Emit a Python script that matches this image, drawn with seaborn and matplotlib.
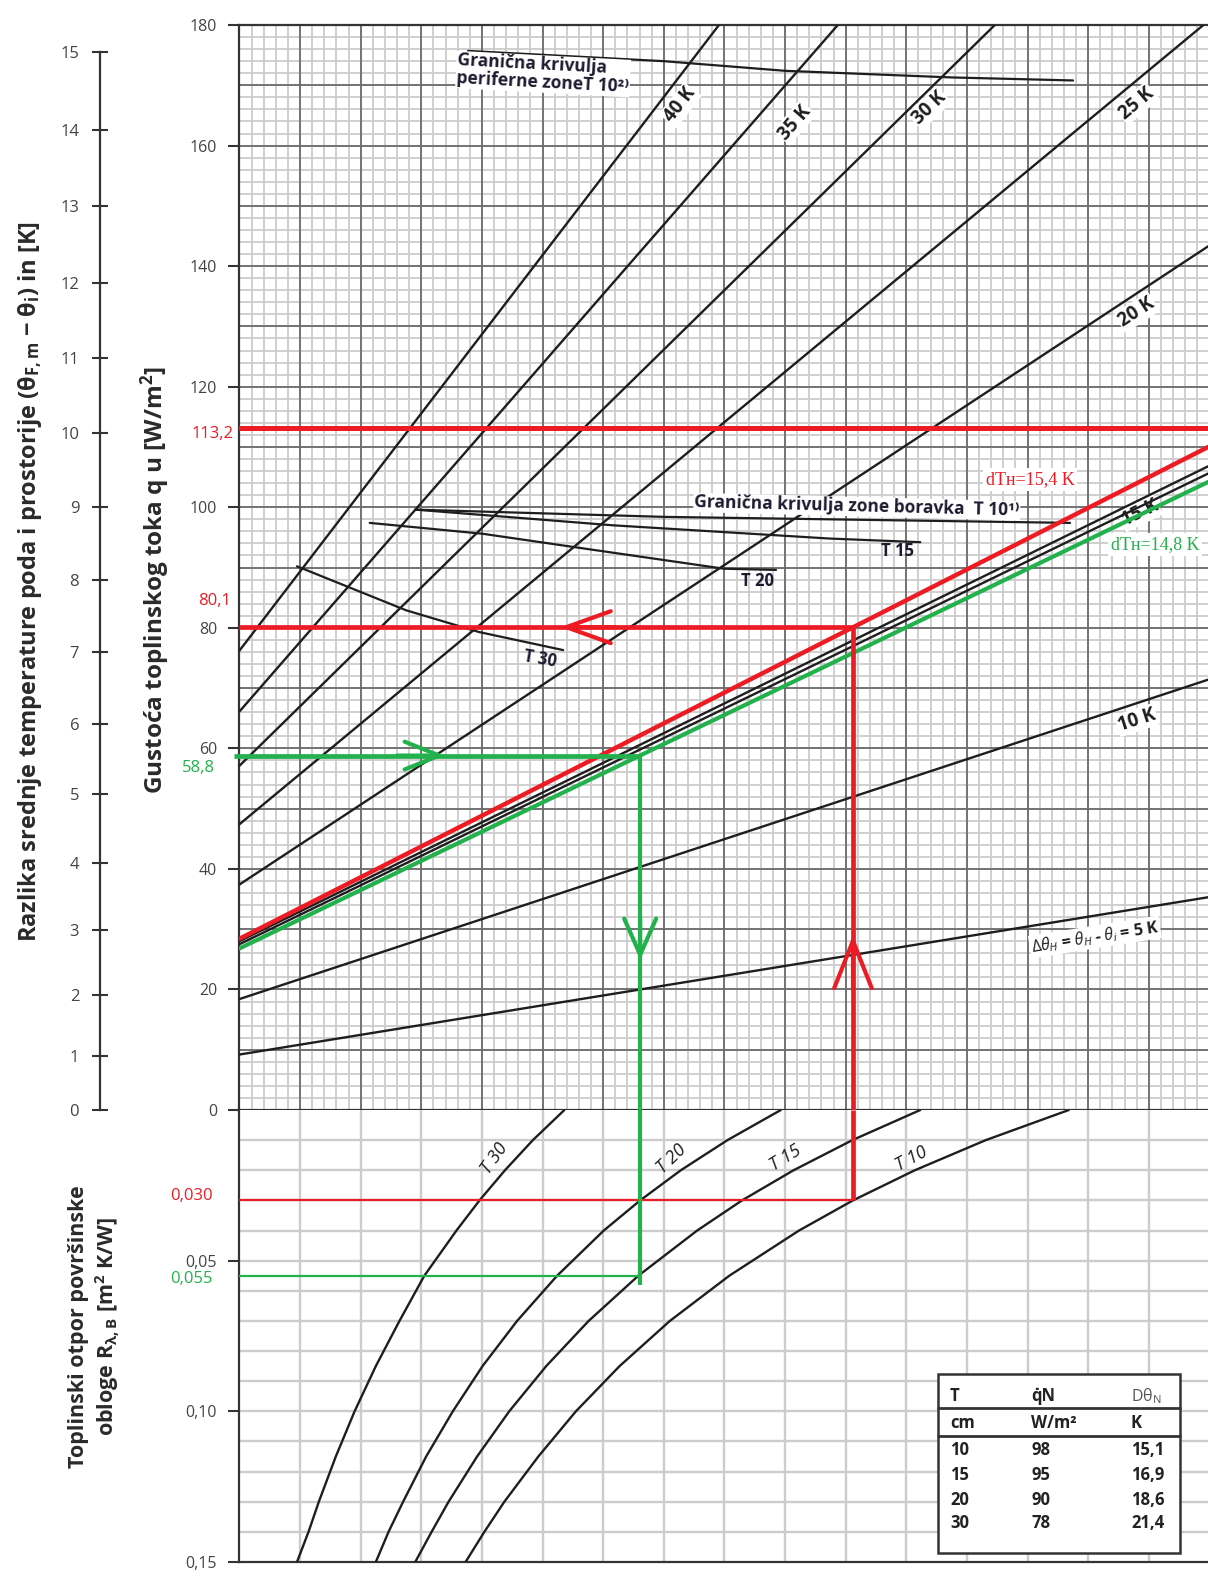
import numpy as np
import pandas as pd
import matplotlib
matplotlib.use("Agg")
import matplotlib.pyplot as plt
from matplotlib.patches import Rectangle
from matplotlib.lines import Line2D
import seaborn as sns

# ================= DATA =================
# x axis = grid columns (0 .. ~16, unlabeled), y = heat flux q [W/m2]
char_names = ["5 K", "10 K", "15 K a", "15 K b", "20 K", "25 K", "30 K", "35 K", "40 K"]
char_x0 = [0.0, 0.0, 0.0, 0.0, 0.0, 0.0, 0.0, 0.0, 0.0]
char_q0 = [9.2, 18.4, 28.0, 27.5, 37.4, 47.4, 57.1, 66.1, 76.2]
char_x1 = [15.98, 15.98, 15.98, 15.98, 15.98, 15.90, 12.46, 9.87, 7.91]
char_q1 = [35.3, 71.4, 106.8, 105.6, 143.3, 180.0, 180.0, 180.0, 180.0]

# worked examples (red: dTH = 15,4 K ; green: dTH = 14,8 K)
red_line_x = [0.0, 15.98]
red_line_q = [28.4, 110.0]
green_line_x = [0.0, 15.98]
green_line_q = [26.8, 104.2]
q_max_red = 113.2
q_red, x_red, R_red = 80.1, 10.12, 0.030
q_green, x_green, R_green = 58.8, 6.61, 0.055
R_green_end = 0.058

# boundary curves (top panel)
bnd_names = ["per", "b10", "b15", "b20", "b30"]
bnd_x = {
    "per": [3.77, 7.0, 9.0, 11.75, 13.75],
    "b10": [2.90, 7.0, 13.70],
    "b15": [2.90, 6.16, 9.74, 11.23],
    "b20": [2.15, 4.01, 5.65, 7.99, 8.85],
    "b30": [0.95, 2.75, 3.95, 5.34],
}
bnd_q = {
    "per": [175.7, 174.0, 172.4, 171.3, 170.8],
    "b10": [99.6, 98.4, 97.4],
    "b15": [99.6, 97.0, 94.8, 94.2],
    "b20": [97.4, 95.6, 93.2, 89.8, 89.6],
    "b30": [90.2, 82.9, 79.3, 76.3],
}

# resistance curves (bottom panel): x column vs R [m2K/W]
res_names = ["T 30", "T 20", "T 15", "T 10"]
res_R_pts = [0.0, 0.01, 0.02, 0.03, 0.04, 0.055, 0.07, 0.085, 0.10, 0.115, 0.13, 0.14, 0.15]
res_x = {
    "T 30": [5.36, 4.84, 4.38, 3.96, 3.58, 3.05, 2.64, 2.25, 1.90, 1.59, 1.31, 1.14, 0.95],
    "T 20": [8.93, 8.05, 7.28, 6.61, 6.01, 5.24, 4.58, 4.01, 3.52, 3.08, 2.70, 2.46, 2.25],
    "T 15": [11.23, 10.11, 9.14, 8.29, 7.55, 6.58, 5.76, 5.06, 4.45, 3.92, 3.45, 3.17, 2.90],
    "T 10": [13.68, 12.31, 11.14, 10.12, 9.23, 8.08, 7.10, 6.27, 5.55, 4.93, 4.37, 4.04, 3.73],
}

# left auxiliary axis: surface temperature difference ticks and their q positions
dtheta_labels = [str(i) for i in range(16)]
dtheta_q = [0, 8.9, 19.1, 29.9, 41.0, 52.4, 64.0, 75.9, 87.9, 100.0,
            112.3, 124.7, 137.2, 149.9, 162.6, 175.5]

q_ticks = [0, 20, 40, 60, 80, 100, 120, 140, 160, 180]
R_ticks = [0.05, 0.10, 0.15]
R_ticklabels = ["0,05", "0,10", "0,15"]

# table
tbl_T = ["10", "15", "20", "30"]
tbl_q = ["98", "95", "90", "78"]
tbl_d = ["15,1", "16,9", "18,6", "21,4"]

# ================= STYLE =================
sns.set_theme(style="white")
plt.rcParams["font.family"] = ["Open Sans", "DejaVu Sans"]
plt.rcParams["mathtext.fontset"] = "custom"
plt.rcParams["mathtext.rm"] = "Open Sans"
plt.rcParams["mathtext.it"] = "Open Sans:italic"
plt.rcParams["mathtext.bf"] = "Open Sans:bold"

RED = "#ed1c24"
GREEN = "#22b14c"
INK = "#1e1e1e"
SPINE = "#333333"
TICKC = "#444444"
MINOR = "#cccccc"
MAJOR = "#6c6c6c"

W, H = 1208, 1577
X0 = 239.4
PX_COL = 60.63
XMAX = (W - X0) / PX_COL


def fx(px):
    return px / W


def fy(py):
    return 1 - py / H


fig = plt.figure(figsize=(W / 100, H / 100), dpi=100)
ax = fig.add_axes([fx(X0), fy(1110), 1 - fx(X0), (1110 - 25) / H])
axb = fig.add_axes([fx(X0), fy(1562), 1 - fx(X0), (1562 - 1110) / H])
axd = fig.add_axes([fx(100), fy(1110), 0.0005, (1110 - 25) / H])

# ---------------- grid, top panel ----------------
ax.vlines(np.arange(1, 81) * 0.2, 0, 180, color=MINOR, lw=1.3, zorder=0.5)
ax.hlines(np.arange(1, 90) * 2, 0, XMAX, color=MINOR, lw=1.3, zorder=0.5)
ax.vlines(np.arange(1, 16), 0, 180, color=MAJOR, lw=1.3, zorder=0.6)
ax.hlines(np.arange(1, 18) * 10, 0, XMAX, color=MAJOR, lw=1.3, zorder=0.6)

# ---------------- grid, bottom panel ----------------
axb.vlines(np.arange(1, 16), 0, 0.15, color=MINOR, lw=1.7, zorder=0.5)
axb.hlines(np.arange(1, 15) * 0.01, 0, XMAX, color=MINOR, lw=1.7, zorder=0.5)

# ---------------- characteristic lines ----------------
rows = []
for n, x0, q0, x1, q1 in zip(char_names, char_x0, char_q0, char_x1, char_q1):
    rows += [(n, x0, q0), (n, x1, q1)]
df_char = pd.DataFrame(rows, columns=["line", "x", "q"])
sns.lineplot(data=df_char, x="x", y="q", units="line", estimator=None,
             color=INK, lw=1.7, ax=ax, legend=False, zorder=3)

rows = []
for n in bnd_names:
    for xv, qv in zip(bnd_x[n], bnd_q[n]):
        rows.append((n, xv, qv))
df_bnd = pd.DataFrame(rows, columns=["line", "x", "q"])
sns.lineplot(data=df_bnd, x="x", y="q", units="line", estimator=None,
             color=INK, lw=1.6, ax=ax, legend=False, zorder=3)

# worked example lines
sns.lineplot(x=red_line_x, y=red_line_q, color=RED, lw=3.2, ax=ax, zorder=6)
sns.lineplot(x=green_line_x, y=green_line_q, color=GREEN, lw=3.0, ax=ax, zorder=6)
ax.axhline(q_max_red, color=RED, lw=3.6, zorder=6)
ax.hlines(q_red, 0, x_red, color=RED, lw=3.4, zorder=6)
ax.vlines(x_red, 0, q_red, color=RED, lw=3.4, zorder=6)
ax.hlines(q_green, -0.09, x_green, color=GREEN, lw=3.4, zorder=6, clip_on=False)
ax.vlines(x_green, 0, q_green, color=GREEN, lw=3.0, zorder=6)

# bottom panel
rows = []
for n in res_names:
    for xv, rv in zip(res_x[n], res_R_pts):
        rows.append((n, xv, rv))
df_res = pd.DataFrame(rows, columns=["curve", "x", "R"])
sns.lineplot(data=df_res, x="x", y="R", units="curve", estimator=None,
             color=INK, lw=1.7, ax=axb, legend=False, zorder=3, sort=False)
axb.hlines(R_red, 0, x_red, color=RED, lw=1.6, zorder=6)
axb.vlines(x_red, 0, R_red, color=RED, lw=3.4, zorder=6)
axb.hlines(R_green, 0, x_green, color=GREEN, lw=1.6, zorder=6)
axb.vlines(x_green, 0, R_green_end, color=GREEN, lw=3.0, zorder=6)


# chevron arrows
def chevron(a, tip, tail, color, hl, hw, lw):
    a.annotate("", xy=tip, xytext=tail,
               arrowprops=dict(arrowstyle=f"->,head_length={hl},head_width={hw}",
                               color=color, lw=lw, mutation_scale=10,
                               shrinkA=0, shrinkB=0), zorder=7)


chevron(ax, (3.39, q_green), (2.6, q_green), GREEN, 2.5, 1.0, 3.0)
chevron(ax, (5.29, q_red), (6.2, q_red), RED, 3.2, 1.15, 3.0)
chevron(ax, (x_green, 24.9), (x_green, 32.0), GREEN, 2.6, 1.15, 3.0)
chevron(ax, (x_red, 29.0), (x_red, 20.0), RED, 3.4, 1.35, 3.0)

# ---------------- axes cosmetics ----------------
for a in (ax, axb):
    a.set_xlabel("")
    a.set_ylabel("")
    a.set_xlim(0, XMAX)
    a.set_xticks([])
    a.spines["right"].set_visible(False)
    for s in ("left", "top", "bottom"):
        a.spines[s].set_color(SPINE)
        a.spines[s].set_linewidth(1.6)
ax.set_ylim(0, 180)
ax.set_yticks(q_ticks)
ax.set_yticklabels([str(v) for v in q_ticks])
axb.set_ylim(0.15, 0)
axb.spines["top"].set_visible(False)
axb.set_yticks(R_ticks)
axb.set_yticklabels(R_ticklabels)
for a in (ax, axb):
    a.tick_params(axis="y", direction="out", length=8, width=1.5, color=SPINE,
                  pad=8, labelsize=11.5, labelcolor=TICKC, left=True)

# left auxiliary axis
axd.set_ylim(0, 180)
axd.set_xticks([])
axd.patch.set_visible(False)
for s in ("right", "top", "bottom"):
    axd.spines[s].set_visible(False)
axd.spines["left"].set_color(SPINE)
axd.spines["left"].set_linewidth(1.6)
axd.spines["left"].set_bounds(0, dtheta_q[-1])
axd.set_yticks(dtheta_q)
axd.set_yticklabels(dtheta_labels)
axd.tick_params(axis="y", direction="inout", length=12, width=1.5, color=SPINE,
                pad=9, labelsize=12, labelcolor=TICKC, left=True)

# ---------------- value labels in the margin ----------------
ytr = ax.get_yaxis_transform()
ax.text(-0.006, q_max_red - 1.0, "113,2", transform=ytr, ha="right", va="center",
        color=RED, fontsize=12, clip_on=False)
ax.text(-0.009, q_red + 4.3, "80,1", transform=ytr, ha="right", va="center",
        color=RED, fontsize=12, clip_on=False)
ax.text(-0.025, q_green - 2.1, "58,8", transform=ytr, ha="right", va="center",
        color=GREEN, fontsize=12, clip_on=False)
ybtr = axb.get_yaxis_transform()
axb.text(-0.028, R_red - 0.0015, "0,030", transform=ybtr, ha="right", va="center",
         color=RED, fontsize=12, clip_on=False)
axb.text(-0.028, R_green + 0.0011, "0,055", transform=ybtr, ha="right", va="center",
         color=GREEN, fontsize=12, clip_on=False)

# ---------------- line labels ----------------
bb = dict(facecolor="white", edgecolor="none", pad=1.0)
line_lbls = [("40 K", 7.27, 166.7, 52), ("35 K", 9.16, 163.8, 49),
             ("30 K", 11.38, 166.2, 44), ("25 K", 14.80, 167.0, 40),
             ("20 K", 14.80, 132.3, 33), ("15 K", 14.85, 99.0, 26),
             ("10 K", 14.80, 64.7, 18)]
for t, xv, qv, rot in line_lbls:
    ax.text(xv, qv, t, rotation=rot, rotation_mode="anchor", ha="center", va="center",
            fontsize=13.5, fontweight="bold", color=INK, bbox=bb, zorder=2.5)
ax.text(14.11, 28.7, r"$\Delta\theta_{H}$ = $\theta_{H}$ - $\theta_{i}$ = 5 K", rotation=9,
        rotation_mode="anchor", ha="center", va="center", fontsize=11.5,
        fontweight="bold", color=INK, bbox=bb, zorder=4)

serif = ["Liberation Serif", "DejaVu Serif"]
ax.text(13.04, 104.6, "dTн=15,4 K", family=serif, fontsize=13, color=RED,
        ha="center", va="center", bbox=dict(facecolor="white", edgecolor="none", pad=2),
        zorder=5)
ax.text(15.10, 93.8, "dTн=14,8 K", family=serif, fontsize=13, color=GREEN,
        ha="center", va="center", bbox=dict(facecolor="white", edgecolor="none", pad=2),
        zorder=5)

NAVY = "#1c1c30"
ax.text(3.60, 175.6, "Granična krivulja\nperiferne zoneT 10²⁾", rotation=-3,
        rotation_mode="anchor", ha="left", va="top", fontsize=12.5, fontweight="bold",
        color=NAVY, linespacing=1.0, zorder=4,
        bbox=dict(facecolor="white", edgecolor="none", pad=0.5))
ax.text(7.50, 100.8, "Granična krivulja zone boravka  T 10¹⁾", rotation=-1.5,
        rotation_mode="anchor", ha="left", va="center", fontsize=12.5,
        fontweight="bold", color=NAVY, zorder=4,
        bbox=dict(facecolor="white", edgecolor="none", pad=0.5))
ax.text(10.85, 92.8, "T 15", ha="center", va="center", fontsize=12,
        fontweight="bold", color=NAVY, zorder=4)
ax.text(8.54, 87.7, "T 20", ha="center", va="center", fontsize=12,
        fontweight="bold", color=NAVY, zorder=4)
ax.text(4.96, 74.9, "T 30", rotation=-10, ha="center", va="center", fontsize=12,
        fontweight="bold", color=NAVY, zorder=4)

for t, xv, rv, rot in [("T 30", 4.20, 0.0160, 55), ("T 20", 7.13, 0.0163, 44),
                       ("T 15", 9.00, 0.0160, 32), ("T 10", 11.08, 0.0163, 28)]:
    axb.text(xv, rv, t, rotation=rot, rotation_mode="anchor", ha="center", va="center",
             fontsize=13, style="italic", color=INK, zorder=4)

# ---------------- axis titles ----------------
fig.text(fx(30), fy(582),
         r"Razlika srednje temperature poda i prostorije (θ$_{\mathbf{F,m}}$ − θ$_{\mathbf{i}}$) in [K]",
         rotation=90, ha="center", va="center", fontsize=17, fontweight="bold", color="#2a2a2a")
fig.text(fx(155), fy(580), r"Gustoća toplinskog toka q u [W/m$^{\mathbf{2}}$]",
         rotation=90, ha="center", va="center", fontsize=17.5, fontweight="bold", color="#2a2a2a")
fig.text(fx(95), fy(1327), "Toplinski otpor površinske\n" + r"obloge R$_{\mathbf{λ,B}}$ [m$^{\mathbf{2}}$ K/W]",
         rotation=90, ha="center", va="center", fontsize=15.5, fontweight="bold",
         color="#2a2a2a", multialignment="center", linespacing=1.2)

# ---------------- table ----------------
tl, tr, tt, tb = 938, 1180, 1374, 1553
fig.add_artist(Rectangle((fx(tl), fy(tb)), (tr - tl) / W, (tb - tt) / H,
                         transform=fig.transFigure, facecolor="white",
                         edgecolor=SPINE, lw=1.8, zorder=10))
for yline in (1408, 1436):
    fig.add_artist(Line2D([fx(tl), fx(tr)], [fy(yline), fy(yline)],
                          transform=fig.transFigure, color=SPINE, lw=2.0, zorder=11))
cx = [950, 1031, 1131]
tk = dict(fontsize=12, fontweight="bold", color="#222222", va="center", ha="left", zorder=12)
fig.text(fx(cx[0]), fy(1396), "T", **tk)
fig.text(fx(cx[1]), fy(1396), "q̇N", **tk)
fig.text(fx(cx[2]), fy(1396), r"Dθ$_\mathregular{N}$", fontsize=11.5, color="#555555",
         va="center", ha="left", zorder=12)
fig.text(fx(cx[0]), fy(1423), "cm", **tk)
fig.text(fx(cx[1]), fy(1423), "W/m²", **tk)
fig.text(fx(cx[2]), fy(1423), "K", **tk)
for i, yrow in enumerate([1450, 1475, 1500, 1523]):
    fig.text(fx(cx[0]), fy(yrow), tbl_T[i], **tk)
    fig.text(fx(cx[1]), fy(yrow), tbl_q[i], **tk)
    fig.text(fx(cx[2]), fy(yrow), tbl_d[i], **tk)

fig.savefig("out.png", dpi=100)
